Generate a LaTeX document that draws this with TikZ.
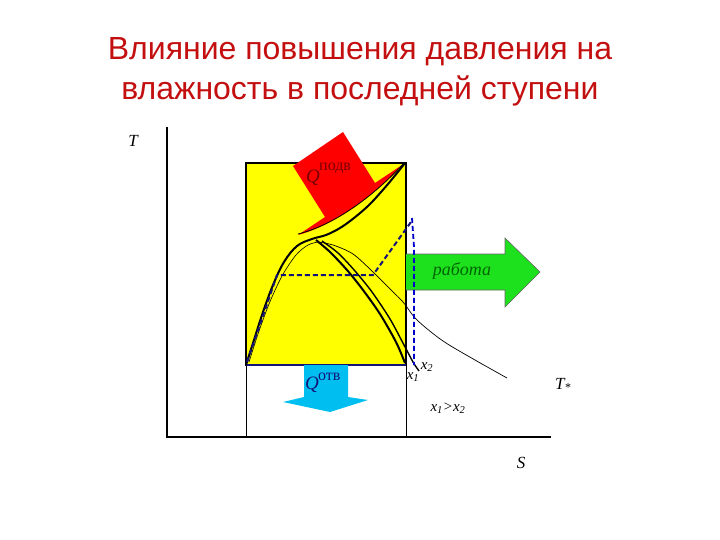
\documentclass[tikz,border=0pt]{standalone}
\usepackage{fontspec}
\setmainfont{Liberation Serif}
\newfontfamily\titlefont{Liberation Sans}
\definecolor{titlered}{RGB}{195,15,15}
\definecolor{yel}{RGB}{255,255,0}
\definecolor{grn}{RGB}{30,225,30}
\definecolor{dgrn}{RGB}{0,100,0}
\definecolor{sky}{RGB}{0,190,240}
\definecolor{navy}{RGB}{20,20,120}
\definecolor{dred}{RGB}{120,0,0}
\begin{document}
\begin{tikzpicture}[x=1pt,y=-1pt,
  lbl/.style={font=\fontsize{17}{17}\selectfont\itshape, inner sep=0pt},
  small/.style={font=\fontsize{15}{15}\selectfont\itshape, inner sep=0pt},
  sup/.style={font=\fontsize{16}{16}\selectfont, inner sep=0pt},
  axis/.style={line width=1.2pt, black},
  dashnavy/.style={navy, line width=2pt, dash pattern=on 5pt off 3pt}]
\useasboundingbox (0,0) rectangle (720,540);
% title
\node[font=\titlefont\fontsize{32}{32}\selectfont, text=titlered, anchor=base] (t1) at (360,60) {Влияние повышения давления на};
\node[font=\titlefont\fontsize{32}{32}\selectfont, text=titlered, anchor=base] (t2) at (360,100) {влажность в последней ступени};
% axes
\draw[axis] (167,127) -- (167,437) -- (551,437);
\node[lbl] (T) at (133,141) {T};
\node[lbl] (S) at (521,463) {S};
% lower rectangle lines
\draw[line width=0.9pt] (246,365) -- (246,437);
\draw[line width=0.9pt] (406,365) -- (406,437);
% yellow rectangle
\draw[fill=yel, line width=1.3pt] (246,163) rectangle (406,365);
\draw[navy, line width=1.3pt] (246,365) -- (406,365);
% green arrow
\draw[fill=grn, draw=black!60, line width=0.6pt] (406,254) -- (505,254) -- (505,238) -- (540,272) -- (505,307) -- (505,290) -- (406,290);
\node[font=\fontsize{18}{18}\selectfont\itshape, text=dgrn] (work) at (462,271) {работа};
% red arrow
\fill[red] (293,166) -- (343,132) -- (375,183) -- (402,165)
  .. controls (375,195) and (335,225) .. (298,235) -- (325,217) -- cycle;
\draw[line width=0.8pt] (404,163) .. controls (375,195) and (335,225) .. (298,234);
\node[font=\fontsize{19}{19}\selectfont\itshape, text=dred, inner sep=0pt] (Qp) at (313,178) {Q};
\node[sup, text=dred, anchor=base west] (Qps) at (319,171) {подв};
% thin inner left dome line
\draw[line width=0.6pt] plot[smooth] coordinates {(249,362) (258,334) (269,304) (282,276) (296,255) (308,245) (318,242)};
% thick cycle line
\draw[line width=2pt] plot[smooth, tension=0.6] coordinates {(246,365) (254,340) (263,312) (273,285) (284,262) (297,246) (312,239) (326,235) (340,228) (354,218) (370,204) (388,184) (405,163)};
% thick right branch A
\draw[line width=2pt] plot[smooth] coordinates {(316,240) (330,252) (347,270) (363,290) (380,314) (396,342) (405,363)};
% medium right branch B
\draw[line width=1.4pt] plot[smooth] coordinates {(322,241) (338,253) (355,271) (372,292) (390,319) (404,345) (413,362) (419,371)};
% thin line C
\draw[line width=0.7pt] plot[smooth] coordinates {(318,242) (333,245) (353,254) (373,272) (388,287) (403,302) (417,320) (443,341) (475,360) (507,378)};
% dashed lower-pressure cycle
\draw[dashnavy] (247,362) -- (277,275) -- (373,275) -- (411,222);
\draw[blue!80!black, line width=1.8pt, dash pattern=on 5pt off 3pt] (412,218) -- (414,247) -- (414,365);
% blue arrow
\fill[sky] (304,365) -- (348,365) -- (348,397) -- (368,400) -- (330,412) -- (283,402) -- (304,397) -- cycle;
\node[font=\fontsize{19}{19}\selectfont\itshape, text=navy, inner sep=0pt] (Qo) at (312,385) {Q};
\node[sup, text=navy, anchor=base west] (Qos) at (318,380) {отв};
% labels
\node[small] (x2) at (427,367) {x\textsubscript{2}};
\node[small] (x1) at (413,377) {x\textsubscript{1}};
\node[small] (cmp) at (448,408) {x\textsubscript{1}>x\textsubscript{2}};
\node[lbl] (Tst) at (563,385) {T\textsubscript{*}};
\end{tikzpicture}
\end{document}
